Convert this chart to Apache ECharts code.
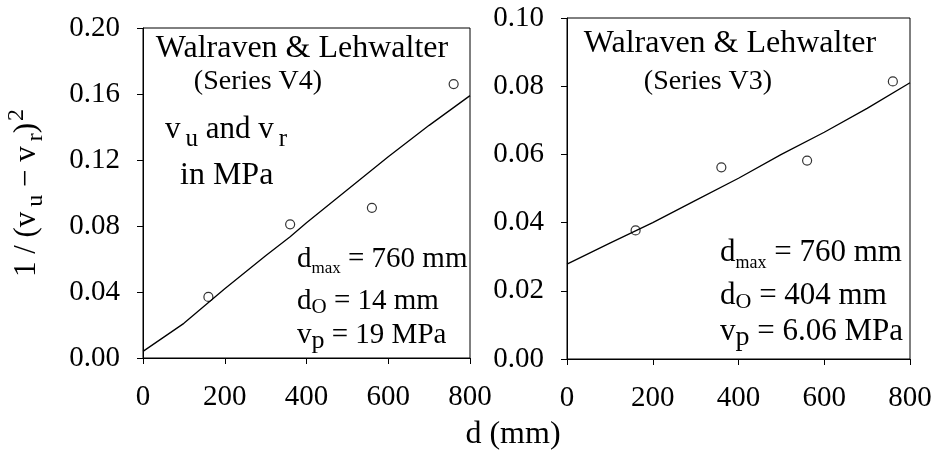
<!DOCTYPE html>
<html>
<head>
<meta charset="utf-8">
<script src="https://cdn.jsdelivr.net/npm/echarts@6/dist/echarts.min.js"></script>
<style>
  html, body { margin: 0; padding: 0; background: #fff; }
  #chart { width: 949px; height: 454px; }
</style>
</head>
<body>
<div id="chart"></div>
<script>
// left panel: Series V4
const v4_pts_x = [160, 360, 560, 760]
const v4_pts_y = [0.037, 0.081, 0.091, 0.166]
const v4_fit_x = [0, 100, 200, 300, 360, 400, 500, 600, 700, 800]
const v4_fit_y = [0.004, 0.021, 0.042, 0.062, 0.0735, 0.082, 0.102, 0.122, 0.141, 0.159]

// right panel: Series V3
const v3_pts_x = [160, 360, 560, 760]
const v3_pts_y = [0.0377, 0.0562, 0.0582, 0.0814]
const v3_fit_x = [0, 100, 200, 300, 400, 500, 600, 700, 800]
const v3_fit_y = [0.0278, 0.034, 0.040, 0.0465, 0.053, 0.060, 0.0665, 0.0735, 0.081]

const x_ticks = [0, 200, 400, 600, 800]
const v4_y_ticks = [0, 0.04, 0.08, 0.12, 0.16, 0.20]
const v3_y_ticks = [0, 0.02, 0.04, 0.06, 0.08, 0.10]

const FONT = '"Liberation Serif", "DejaVu Serif", serif'

function pairs(xs, ys) {
  return xs.map((x, i) => [x, ys[i]])
}

function txt(x, y, text, align, size, rich) {
  return {
    type: 'text', x: x, y: y,
    style: {
      text: text, fill: '#000',
      font: size + 'px ' + FONT,
      textAlign: align, textVerticalAlign: 'middle',
      rich: rich || {}
    }
  }
}

// rich styles for subscripts in annotations
function annRich(size) {
  return {
    n: { fontSize: size, fontFamily: FONT, fill: '#000', lineHeight: 38 },
    s: { fontSize: Math.round(size * 0.58), fontFamily: FONT, fill: '#000', padding: [20, 0, 0, 0] },
    o: { fontSize: Math.round(size * 0.72), fontFamily: FONT, fill: '#000', padding: [12, 0, 0, 0] },
    p: { fontSize: Math.round(size * 0.9), fontFamily: FONT, fill: '#000', padding: [12, 0, 0, 0] },
    u: { fontSize: Math.round(size * 0.8), fontFamily: FONT, fill: '#000', padding: [18, 0, 0, 5] }
  }
}
const left_rich = annRich(29)
const right_rich = annRich(31)

function xAxisOpt(idx) {
  return {
    gridIndex: idx, type: 'value', min: 0, max: 800, interval: 200,
    axisLine: { show: true, lineStyle: { color: '#000', width: 1 } },
    axisTick: { show: true, length: 6, lineStyle: { color: '#000' } },
    axisLabel: { color: '#000', fontSize: 29, fontFamily: FONT, margin: 25 },
    splitLine: { show: false }
  }
}

function yAxisOpt(idx, max, interval) {
  return {
    gridIndex: idx, type: 'value', min: 0, max: max, interval: interval,
    axisLine: { show: true, lineStyle: { color: '#000', width: 1 } },
    axisTick: { show: true, length: 6, lineStyle: { color: '#000' } },
    axisLabel: {
      color: '#000', fontSize: 29, fontFamily: FONT, margin: 23,
      formatter: (v) => v.toFixed(2)
    },
    splitLine: { show: false }
  }
}

const my_echart = echarts.init(document.getElementById('chart'), null, { renderer: 'canvas' })

const y0 = yAxisOpt(0, 0.2, 0.04)
y0.name = '{m|1 / (v}{s|u}{m| − v}{s|r}{m|)}{p|2}'
y0.nameLocation = 'middle'
y0.nameGap = 94
y0.nameTextStyle = {
  color: '#000',
  rich: {
    m: { fontSize: 31, fontFamily: FONT, color: '#000', lineHeight: 38 },
    s: { fontSize: 24, fontFamily: FONT, color: '#000', padding: [18, 0, 0, 5] },
    p: { fontSize: 24, fontFamily: FONT, color: '#000', padding: [0, 0, 20, 2] }
  }
}

const x0 = xAxisOpt(0)
const x1 = xAxisOpt(1)

my_echart.setOption({
  backgroundColor: '#fff',
  animation: false,
  grid: [
    { left: 143, top: 28, width: 327, height: 330, show: true, borderColor: '#000', borderWidth: 1 },
    { left: 567, top: 18, width: 343, height: 341, show: true, borderColor: '#000', borderWidth: 1 }
  ],
  xAxis: [x0, x1],
  yAxis: [y0, yAxisOpt(1, 0.1, 0.02)],
  series: [
    {
      type: 'line', xAxisIndex: 0, yAxisIndex: 0,
      data: pairs(v4_fit_x, v4_fit_y),
      showSymbol: false, lineStyle: { color: '#000', width: 1.3 }
    },
    {
      type: 'scatter', xAxisIndex: 0, yAxisIndex: 0,
      data: pairs(v4_pts_x, v4_pts_y),
      symbol: 'circle', symbolSize: 9,
      itemStyle: { color: '#fff', borderColor: '#000', borderWidth: 1.2 }
    },
    {
      type: 'line', xAxisIndex: 1, yAxisIndex: 1,
      data: pairs(v3_fit_x, v3_fit_y),
      showSymbol: false, lineStyle: { color: '#000', width: 1.3 }
    },
    {
      type: 'scatter', xAxisIndex: 1, yAxisIndex: 1,
      data: pairs(v3_pts_x, v3_pts_y),
      symbol: 'circle', symbolSize: 9,
      itemStyle: { color: '#fff', borderColor: '#000', borderWidth: 1.2 }
    }
  ],
  graphic: [
    // left panel labels
    txt(302, 49, 'Walraven & Lehwalter', 'center', 32),
    txt(258, 82, '(Series V4)', 'center', 28),
    txt(165, 130, '{n|v}{u|u}{n| and v}{u|r}', 'left', 31, annRich(31)),
    txt(180, 176, 'in MPa', 'left', 32),
    txt(297, 259, '{n|d}{s|max}{n| = 760 mm}', 'left', 29, left_rich),
    txt(297, 301, '{n|d}{o|O}{n| = 14 mm}', 'left', 29, left_rich),
    txt(297, 335, '{n|v}{p|p}{n| = 19 MPa}', 'left', 29, left_rich),
    // right panel labels
    txt(730, 44, 'Walraven & Lehwalter', 'center', 32),
    txt(708, 82, '(Series V3)', 'center', 28),
    txt(720, 253, '{n|d}{s|max}{n| = 760 mm}', 'left', 31, right_rich),
    txt(720, 296, '{n|d}{o|O}{n| = 404 mm}', 'left', 31, right_rich),
    txt(720, 332, '{n|v}{p|p}{n| = 6.06 MPa}', 'left', 31, right_rich),
    // shared x-axis title
    txt(513, 435, 'd (mm)', 'center', 32)
  ]
})
</script>
</body>
</html>
